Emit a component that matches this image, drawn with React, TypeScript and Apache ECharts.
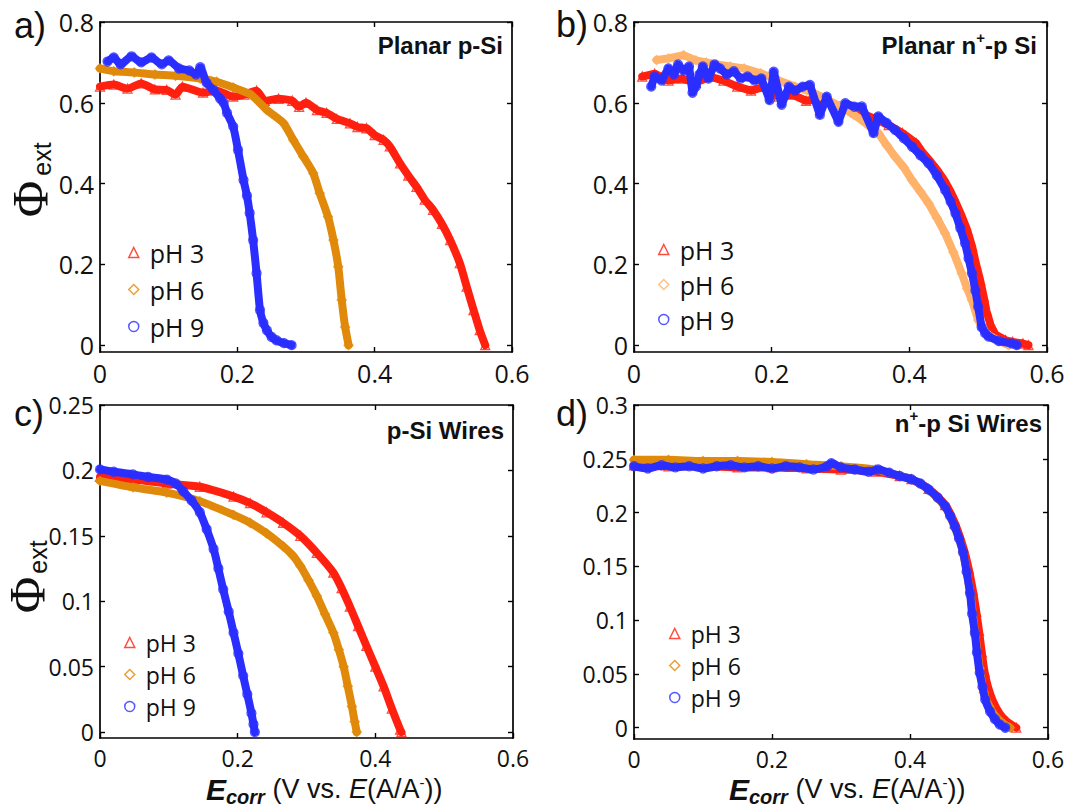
import React, { useEffect, useRef } from 'react';
import * as echarts from 'echarts';

// ---------- tick values ----------
const xTicks = [0, 0.2, 0.4, 0.6];
const yTicksAB = [0, 0.2, 0.4, 0.6, 0.8];
const yTicksC = [0, 0.05, 0.1, 0.15, 0.2, 0.25];
const yTicksD = [0, 0.05, 0.1, 0.15, 0.2, 0.25, 0.3];
const legendLabels = ['pH 3', 'pH 6', 'pH 9'];

// ---------- a) Planar p-Si ----------
const aPH3 = [[0, 0.64], [0.02, 0.645], [0.04, 0.635], [0.06, 0.648], [0.08, 0.633], [0.097, 0.632], [0.11, 0.62], [0.12, 0.64], [0.15, 0.625], [0.17, 0.63], [0.194, 0.615], [0.21, 0.62], [0.228, 0.63], [0.24, 0.605], [0.26, 0.61], [0.28, 0.605], [0.29, 0.59], [0.3, 0.6], [0.316, 0.582], [0.33, 0.575], [0.345, 0.56], [0.364, 0.549], [0.375, 0.54], [0.388, 0.537], [0.4, 0.52], [0.413, 0.508], [0.422, 0.492], [0.437, 0.45], [0.449, 0.42], [0.461, 0.392], [0.473, 0.36], [0.485, 0.335], [0.498, 0.3], [0.51, 0.26], [0.524, 0.203], [0.534, 0.145], [0.544, 0.087], [0.553, 0.037], [0.561, 0]];
const aPH6 = [[0, 0.685], [0.02, 0.678], [0.05, 0.675], [0.08, 0.67], [0.11, 0.667], [0.146, 0.66], [0.17, 0.652], [0.194, 0.638], [0.22, 0.62], [0.243, 0.582], [0.267, 0.55], [0.2815, 0.508], [0.296, 0.467], [0.3106, 0.4255], [0.32, 0.376], [0.332, 0.318], [0.34, 0.26], [0.347, 0.194], [0.352, 0.112], [0.357, 0.045], [0.362, 0]];
const aPH9 = [[0.011, 0.702], [0.02, 0.712], [0.03, 0.695], [0.046, 0.715], [0.06, 0.70], [0.075, 0.712], [0.09, 0.695], [0.1, 0.705], [0.115, 0.685], [0.13, 0.68], [0.14, 0.67], [0.146, 0.688], [0.155, 0.65], [0.165, 0.632], [0.175, 0.61], [0.18, 0.6], [0.185, 0.575], [0.194, 0.541], [0.201, 0.483], [0.209, 0.409], [0.214, 0.37], [0.218, 0.327], [0.223, 0.26], [0.228, 0.178], [0.233, 0.087], [0.238, 0.055], [0.243, 0.037], [0.25, 0.02], [0.257, 0.012], [0.268, 0.005], [0.279, 0]];

// ---------- b) Planar n+-p Si ----------
const bPH3 = [[0.012, 0.665], [0.03, 0.672], [0.05, 0.655], [0.07, 0.66], [0.09, 0.65], [0.11, 0.665], [0.13, 0.655], [0.15, 0.64], [0.17, 0.63], [0.19, 0.64], [0.21, 0.615], [0.23, 0.62], [0.25, 0.605], [0.27, 0.61], [0.29, 0.595], [0.31, 0.59], [0.33, 0.575], [0.35, 0.56], [0.37, 0.545], [0.39, 0.525], [0.41, 0.5], [0.418, 0.48], [0.428, 0.46], [0.44, 0.435], [0.452, 0.405], [0.46, 0.38], [0.467, 0.355], [0.476, 0.32], [0.484, 0.285], [0.491, 0.245], [0.497, 0.2], [0.503, 0.16], [0.508, 0.12], [0.512, 0.085], [0.518, 0.05], [0.525, 0.026], [0.54, 0.012], [0.55, 0.008], [0.565, 0.004], [0.573, 0]];
const bPH6 = [[0.033, 0.706], [0.05, 0.71], [0.072, 0.718], [0.09, 0.705], [0.105, 0.70], [0.12, 0.695], [0.14, 0.69], [0.16, 0.685], [0.184, 0.673], [0.21, 0.655], [0.234, 0.64], [0.26, 0.625], [0.282, 0.607], [0.3, 0.59], [0.315, 0.575], [0.331, 0.557], [0.343, 0.54], [0.355, 0.525], [0.367, 0.495], [0.379, 0.467], [0.392, 0.44], [0.404, 0.408], [0.416, 0.38], [0.428, 0.351], [0.44, 0.315], [0.452, 0.277], [0.464, 0.23], [0.476, 0.178], [0.484, 0.14], [0.491, 0.111], [0.5, 0.062], [0.507, 0.04], [0.515, 0.025], [0.53, 0.01], [0.544, 0]];
const bPH9 = [[0.025, 0.64], [0.03, 0.665], [0.04, 0.655], [0.05, 0.685], [0.058, 0.67], [0.064, 0.695], [0.072, 0.68], [0.08, 0.69], [0.085, 0.625], [0.09, 0.64], [0.095, 0.67], [0.1, 0.69], [0.108, 0.66], [0.117, 0.695], [0.125, 0.685], [0.135, 0.67], [0.145, 0.678], [0.155, 0.66], [0.165, 0.665], [0.175, 0.655], [0.185, 0.66], [0.197, 0.607], [0.203, 0.677], [0.2145, 0.595], [0.225, 0.64], [0.234, 0.63], [0.245, 0.64], [0.2556, 0.644], [0.27, 0.57], [0.28, 0.615], [0.297, 0.553], [0.307, 0.599], [0.32, 0.59], [0.331, 0.591], [0.348, 0.525], [0.355, 0.566], [0.367, 0.55], [0.379, 0.533], [0.392, 0.512], [0.404, 0.491], [0.416, 0.47], [0.428, 0.45], [0.44, 0.42], [0.452, 0.384], [0.46, 0.355], [0.467, 0.326], [0.474, 0.29], [0.481, 0.252], [0.486, 0.215], [0.491, 0.178], [0.496, 0.135], [0.5, 0.095], [0.505, 0.045], [0.51, 0.03], [0.515, 0.021], [0.53, 0.01], [0.549, 0.004], [0.556, 0]];

// ---------- c) p-Si Wires ----------
const cPH3 = [[0, 0.195], [0.05, 0.193], [0.097, 0.19], [0.145, 0.1875], [0.194, 0.18], [0.218, 0.175], [0.242, 0.168], [0.266, 0.16], [0.291, 0.15], [0.315, 0.137], [0.339, 0.122], [0.351, 0.11], [0.363, 0.096], [0.375, 0.081], [0.387, 0.066], [0.4, 0.05], [0.412, 0.035], [0.424, 0.018], [0.436, 0.002], [0.438, 0]];
const cPH6 = [[0, 0.192], [0.048, 0.187], [0.097, 0.183], [0.145, 0.1765], [0.194, 0.166], [0.218, 0.16], [0.242, 0.152], [0.266, 0.142], [0.28, 0.135], [0.291, 0.127], [0.303, 0.116], [0.315, 0.104], [0.327, 0.09], [0.339, 0.076], [0.347, 0.063], [0.354, 0.05], [0.36, 0.035], [0.366, 0.0196], [0.37, 0.008], [0.373, 0]];
const cPH9 = [[0, 0.2008], [0.02, 0.199], [0.048, 0.197], [0.07, 0.195], [0.097, 0.193], [0.11, 0.19], [0.121, 0.184], [0.133, 0.177], [0.145, 0.168], [0.155, 0.155], [0.165, 0.14], [0.172, 0.125], [0.179, 0.109], [0.187, 0.092], [0.194, 0.076], [0.201, 0.06], [0.208, 0.043], [0.214, 0.029], [0.22, 0.0145], [0.223, 0.006], [0.225, 0]];

// ---------- d) n+-p Si Wires ----------
const dPH3 = [[0, 0.244], [0.05, 0.243], [0.1, 0.243], [0.15, 0.242], [0.2, 0.242], [0.25, 0.241], [0.3, 0.24], [0.35, 0.238], [0.385, 0.234], [0.402, 0.231], [0.427, 0.222], [0.451, 0.207], [0.465, 0.19], [0.477, 0.168], [0.485, 0.148], [0.491, 0.128], [0.496, 0.108], [0.5, 0.09], [0.504, 0.07], [0.508, 0.052], [0.513, 0.038], [0.52, 0.025], [0.53, 0.013], [0.54, 0.006], [0.554, 0]];
const dPH6 = [[0, 0.249], [0.05, 0.249], [0.1, 0.248], [0.15, 0.248], [0.2, 0.247], [0.25, 0.245], [0.3, 0.243], [0.35, 0.24], [0.385, 0.234], [0.402, 0.231], [0.427, 0.221], [0.451, 0.205], [0.465, 0.186], [0.477, 0.162], [0.487, 0.126], [0.494, 0.09], [0.501, 0.055], [0.507, 0.033], [0.515, 0.02], [0.525, 0.01], [0.535, 0.004], [0.545, 0]];
const dPH9 = [[0, 0.243], [0.02, 0.241], [0.04, 0.244], [0.06, 0.242], [0.08, 0.243], [0.1, 0.241], [0.12, 0.243], [0.14, 0.244], [0.16, 0.242], [0.18, 0.243], [0.2, 0.241], [0.22, 0.243], [0.24, 0.242], [0.26, 0.24], [0.28, 0.243], [0.286, 0.246], [0.3, 0.242], [0.32, 0.24], [0.34, 0.238], [0.354, 0.24], [0.37, 0.237], [0.385, 0.234], [0.402, 0.231], [0.415, 0.227], [0.427, 0.2215], [0.44, 0.214], [0.451, 0.206], [0.458, 0.197], [0.465, 0.187], [0.471, 0.176], [0.477, 0.163], [0.482, 0.145], [0.487, 0.125], [0.49, 0.106], [0.494, 0.088], [0.497, 0.07], [0.501, 0.051], [0.505, 0.038], [0.509, 0.026], [0.516, 0.015], [0.523, 0.008], [0.53, 0.003], [0.538, 0]];

// ---------- styling ----------
const RED = '#ff2010';
const ORANGE = '#e0890a';
const LIGHT_ORANGE = '#ffb26a';
const BLUE = '#2a2eff';
const SYMBOLS = ['triangle', 'diamond', 'circle'];
const TICK_FONT = '"Open Sans", "Noto Sans", sans-serif';
const SANS = '"Liberation Sans", Arial, sans-serif';

const panels = [
  { key: 'a', left: 100, top: 22, width: 412, height: 330, yMin: -0.017, yMax: 0.8, yTicks: yTicksAB, data: [aPH3, aPH6, aPH9], colors: [RED, ORANGE, BLUE], smooth: 0.2, fs: 25, legend: { left: 123, top: 235, gap: 12, fs: 25 } },
  { key: 'b', left: 634, top: 22, width: 413, height: 330, yMin: -0.017, yMax: 0.8, yTicks: yTicksAB, data: [bPH3, bPH6, bPH9], colors: [RED, LIGHT_ORANGE, BLUE], smooth: 0, fs: 25, legend: { left: 653, top: 232, gap: 10, fs: 25 } },
  { key: 'c', left: 100, top: 405, width: 413, height: 333, yMin: -0.0045, yMax: 0.25, yTicks: yTicksC, data: [cPH3, cPH6, cPH9], colors: [RED, ORANGE, BLUE], smooth: 0.25, fs: 23, legend: { left: 119, top: 626, gap: 9, fs: 23 } },
  { key: 'd', left: 634, top: 405, width: 414, height: 334, yMin: -0.0105, yMax: 0.3, yTicks: yTicksD, data: [dPH3, dPH6, dPH9], colors: [RED, ORANGE, BLUE], smooth: 0.25, fs: 23, legend: { left: 664, top: 617, gap: 9, fs: 23 } },
];

function buildOption() {
  const grid: any[] = [];
  const xAxis: any[] = [];
  const yAxis: any[] = [];
  const series: any[] = [];
  const legend: any[] = [];

  const axisLine = { show: true, onZero: false, lineStyle: { color: '#000', width: 1.7 } };

  panels.forEach((p, i) => {
    grid.push({ left: p.left, top: p.top, width: p.width, height: p.height, containLabel: false });
    const xBase = {
      type: 'value', gridIndex: i, min: 0, max: 0.6,
      axisLine, splitLine: { show: false },
      axisTick: { show: true, inside: true, length: 5, customValues: xTicks, lineStyle: { color: '#000', width: 1.4 } },
    };
    xAxis.push({ ...xBase, position: 'bottom', axisLabel: { show: true, customValues: xTicks, margin: 8, color: '#111', fontSize: p.fs, fontFamily: TICK_FONT } });
    xAxis.push({ ...xBase, position: 'top', axisLabel: { show: false } });
    const yBase = {
      type: 'value', gridIndex: i, min: p.yMin, max: p.yMax,
      axisLine, splitLine: { show: false },
      axisTick: { show: true, inside: true, length: 5, customValues: p.yTicks, lineStyle: { color: '#000', width: 1.4 } },
    };
    yAxis.push({ ...yBase, position: 'left', axisLabel: { show: true, customValues: p.yTicks, margin: 6, color: '#111', fontSize: p.fs, fontFamily: TICK_FONT } });
    yAxis.push({ ...yBase, position: 'right', axisLabel: { show: false } });

    p.data.forEach((d, k) => {
      const c = p.colors[k];
      series.push({
        type: 'line', name: `${p.key}-band-${k}`, xAxisIndex: 2 * i, yAxisIndex: 2 * i,
        data: d, showSymbol: false, silent: true, z: 2 + k, smooth: p.smooth,
        lineStyle: { color: c, width: 8, join: 'round', cap: 'round' },
      });
      series.push({
        type: 'scatter', name: `${p.key}:${legendLabels[k]}`, xAxisIndex: 2 * i, yAxisIndex: 2 * i,
        data: d, symbol: SYMBOLS[k], symbolSize: 9, silent: true, z: 2 + k,
        itemStyle: { color: 'rgba(255,255,255,0)', borderColor: c, borderWidth: 1.3 },
      });
    });

    legend.push({
      orient: 'vertical', left: p.legend.left, top: p.legend.top,
      itemWidth: 10, itemHeight: 10, itemGap: p.legend.gap, selectedMode: false,
      data: legendLabels.map((l, k) => ({
        name: `${p.key}:${l}`, icon: SYMBOLS[k],
        itemStyle: { color: 'rgba(255,255,255,0)', borderColor: p.colors[k], borderWidth: 1.5 },
      })),
      formatter: (n: string) => n.split(':')[1],
      textStyle: { fontSize: p.legend.fs, fontFamily: TICK_FONT, color: '#111', padding: [0, 0, 0, 6] },
    });
  });

  const letter = (t: string, x: number, y: number) => ({
    type: 'text', x, y, silent: true,
    style: { text: t, font: `36px ${SANS}`, fill: '#111', textAlign: 'left', textVerticalAlign: 'middle' },
  });
  const titleStyle = { fontSize: 24, fontWeight: 'bold', fontFamily: SANS, fill: '#111', lineHeight: 28 };
  const supStyle = { fontSize: 15, fontWeight: 'bold', fontFamily: SANS, fill: '#111', lineHeight: 12, padding: [0, 0, 16, 0] };
  const title = (text: string, x: number, y: number) => ({
    type: 'text', x, y, silent: true,
    style: {
      text, textAlign: 'right', textVerticalAlign: 'middle',
      rich: { b: titleStyle, s: supStyle },
    },
  });
  const phi = (x: number, y: number) => ({
    type: 'text', x, y, rotation: Math.PI / 2, silent: true,
    style: { text: 'Φ', font: '50px "Liberation Serif", "DejaVu Serif", serif', fill: '#111', textAlign: 'center', textVerticalAlign: 'middle' },
  });
  const ext = (x: number, y: number) => ({
    type: 'text', x, y, rotation: Math.PI / 2, silent: true,
    style: { text: 'ext', font: `25px ${SANS}`, fill: '#111', textAlign: 'center', textVerticalAlign: 'middle' },
  });
  const mainX = { fontSize: 27, fontFamily: SANS, fill: '#111', lineHeight: 22 };
  const xTitle = (x: number, y: number) => ({
    type: 'text', x, y, silent: true,
    style: {
      text: '{E|E}{sub|corr}{n| (V vs. }{i|E}{n|(A/A}{sup|-}{n|))}',
      textAlign: 'left', textVerticalAlign: 'middle',
      rich: {
        E: { ...mainX, fontSize: 30, fontWeight: 'bold', fontStyle: 'italic' },
        sub: { fontSize: 20, fontWeight: 'bold', fontStyle: 'italic', fontFamily: SANS, fill: '#111', lineHeight: 10, padding: [16, 0, 0, 0] },
        n: mainX,
        i: { ...mainX, fontStyle: 'italic' },
        sup: { fontSize: 15, fontFamily: SANS, fill: '#111', lineHeight: 10, padding: [0, 0, 14, 0] },
      },
    },
  });

  const graphic = [
    letter('a)', 14, 25), letter('b)', 556, 24), letter('c)', 14, 413), letter('d)', 556, 413),
    title('{b|Planar p-Si}', 503, 45),
    title('{b|Planar n}{s|+}{b|-p Si}', 1037, 45),
    title('{b|p-Si Wires}', 504, 430),
    title('{b|n}{s|+}{b|-p Si Wires}', 1042, 423),
    phi(30, 199), ext(42, 159),
    phi(27, 595), ext(38, 557),
    xTitle(206, 789), xTitle(729, 789),
  ];

  return { animation: false, backgroundColor: '#fff', grid, xAxis, yAxis, series, legend, graphic };
}

export default function App() {
  const ref = useRef<HTMLDivElement>(null);
  useEffect(() => {
    if (!ref.current) return;
    const chart = echarts.init(ref.current, undefined, { renderer: 'svg' });
    chart.setOption(buildOption() as any);
    return () => chart.dispose();
  }, []);
  return (
    <div
      ref={ref}
      style={{ position: 'fixed', left: 0, top: 0, width: 1090, height: 809, background: '#fff' }}
    />
  );
}
